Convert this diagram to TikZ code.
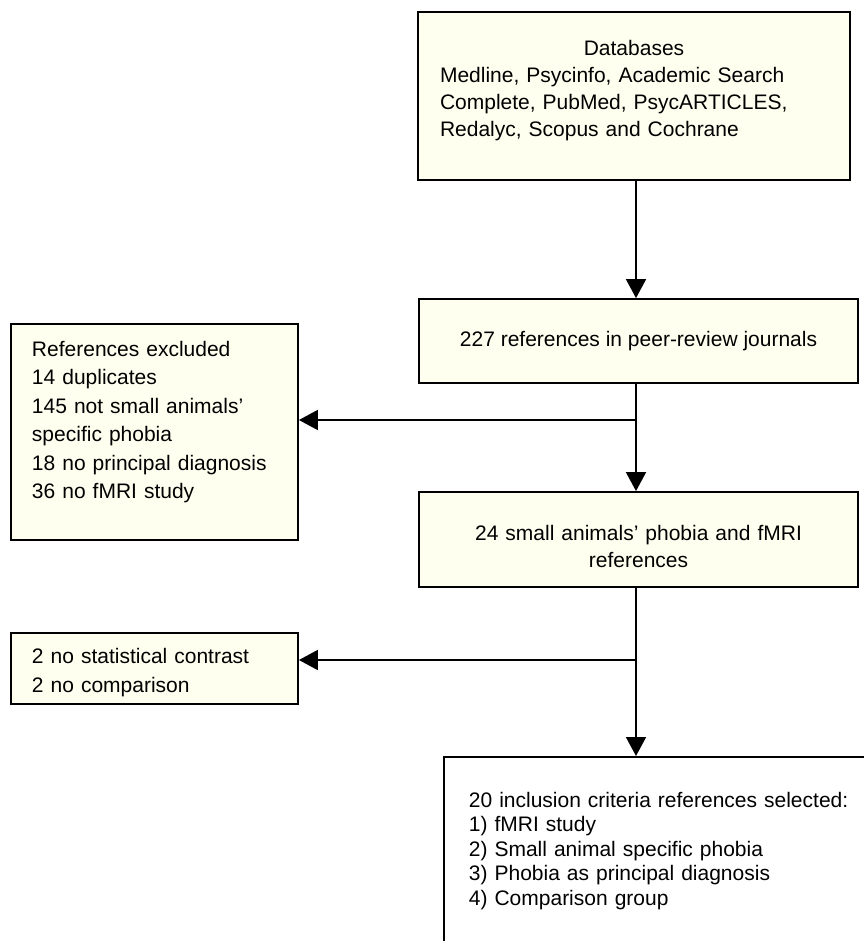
\documentclass[tikz,border=0pt]{standalone}
\usepackage{fontspec}
\setmainfont{Liberation Sans}
\usetikzlibrary{arrows.meta}
\definecolor{boxfill}{RGB}{255,255,240}

\begin{document}
\begin{tikzpicture} [x = 0.5pt, y = -0.5pt, line width = 0.9pt,
  box/.style = {draw, fill = boxfill, rectangle, inner sep = 0pt, font = \fontsize{10.5}{13.5}\selectfont},
  arr/.style = {-{Triangle[length = 9.5pt, width = 10pt]}}]
\path[fill = white, use as bounding box] (0,0) rectangle (863,941);
\node[box, text width = 194pt, inner xsep = 11pt, minimum height = 84pt, align = left] (db) at (634,96)
  {{\centering Databases\par}Medline, Psycinfo, Academic Search\\Complete, PubMed, PsycARTICLES,\\Redalyc, Scopus and Cochrane\rule[-7.2pt]{0pt}{0pt}};
\node[box, minimum width = 219.5pt, minimum height = 42pt, align = center] (refs) at (638.5,341)
  {227 references in peer-review journals};
\node[box, text width = 219.5pt, minimum height = 47.5pt, align = center] (small) at (638.5,539.5)
  {\rule{0pt}{14.7pt}24 small animals’ phobia and fMRI\\references};
\node[box, text width = 122.5pt, inner xsep = 10.5pt, minimum height = 108pt, align = left,
  font = \fontsize{10.5}{14.2}\selectfont] (excl) at (154.5,432)
  {References excluded\\14 duplicates\\145 not small animals’\\specific phobia\\18 no principal diagnosis\\36 no fMRI study\rule[-12.2pt]{0pt}{0pt}};
\node[box, text width = 122.5pt, inner xsep = 10.5pt, minimum height = 35.5pt, align = left,
  font = \fontsize{10.5}{14.5}\selectfont] (nostat) at (154.5,668.5)
  {\rule{0pt}{11.7pt}2 no statistical contrast\\2 no comparison};
\node[box, fill = white, anchor = north west, text width = 230pt, inner xsep = 12.5pt, inner ysep = 17.5pt, align = left,
  font = \fontsize{10.5}{12.25}\selectfont] (incl) at (443,756)
  {20 inclusion criteria references selected:\\1) fMRI study\\2) Small animal specific phobia\\3) Phobia as principal diagnosis\\4) Comparison group\rule[-60pt]{0pt}{0pt}};
\coordinate (j1) at (636,420);
\coordinate (j2) at (636,660);
\draw[arr] (db.south -| j1) -- (refs.north -| j1);
\draw[arr] (refs.south -| j1) -- (small.north -| j1);
\draw[arr] (j1) -- (excl.east |- j1);
\draw[arr] (small.south -| j2) -- (incl.north -| j2);
\draw[arr] (j2) -- (nostat.east |- j2);
\end{tikzpicture}
\end{document}
